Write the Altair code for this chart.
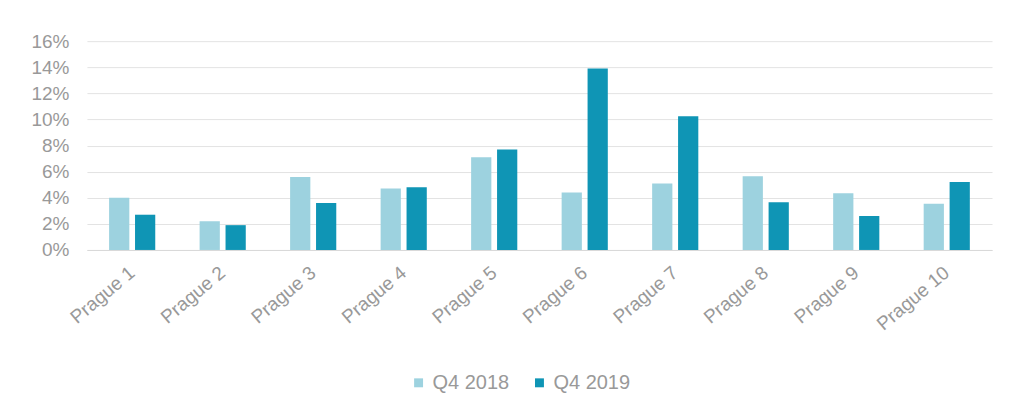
import altair as alt
import pandas as pd

districts = [f"Prague {i}" for i in range(1, 11)]
q4_2018 = [0.040, 0.022, 0.056, 0.047, 0.071, 0.044, 0.051, 0.0565, 0.0435, 0.0355]
q4_2019 = [0.027, 0.019, 0.036, 0.048, 0.077, 0.139, 0.1025, 0.0365, 0.026, 0.052]
series = ["Q4 2018", "Q4 2019"]
colors = ["#9dd2df", "#0f95b5"]

rows = []
for d, a, b in zip(districts, q4_2018, q4_2019):
    rows.append({"district": d, "series": series[0], "value": a})
    rows.append({"district": d, "series": series[1], "value": b})
df = pd.DataFrame(rows)

font = "Liberation Sans"
gray = "#999999"

chart = alt.Chart(df).mark_bar().encode(
    x=alt.X("district:N", sort=districts,
            scale=alt.Scale(paddingInner=0.49, paddingOuter=0.245),
            axis=alt.Axis(title=None, labelAngle=-40, labelAlign="right", labelBaseline="middle",
                          labelPadding=20, ticks=False, domain=True, domainColor="#d9d9d9",
                          labelFont=font, labelFontSize=19, labelColor=gray)),
    xOffset=alt.XOffset("series:N", sort=series, scale=alt.Scale(paddingInner=0.22)),
    y=alt.Y("value:Q",
            scale=alt.Scale(domain=[0, 0.16]),
            axis=alt.Axis(title=None, format=".0%", values=[i / 100 for i in range(0, 17, 2)],
                          ticks=False, domain=False, gridColor="#e3e3e3", labelPadding=18,
                          labelFont=font, labelFontSize=19, labelColor=gray)),
    color=alt.Color("series:N", sort=series,
                    scale=alt.Scale(domain=series, range=colors),
                    legend=alt.Legend(title=None, orient="none", direction="horizontal",
                                      legendX=322, legendY=332, symbolType="square",
                                      symbolSize=80, symbolStrokeWidth=0, labelFont=font,
                                      labelFontSize=20, labelColor=gray, columnPadding=20,
                                      labelOffset=4)),
).properties(
    width=906, height=209,
    padding={"left": 79, "top": 33, "right": 10, "bottom": 150},
    autosize=alt.AutoSizeParams(type="none"),
).configure_view(stroke=None)

chart.save("out.html", embed_options={"renderer": "svg", "actions": False})
